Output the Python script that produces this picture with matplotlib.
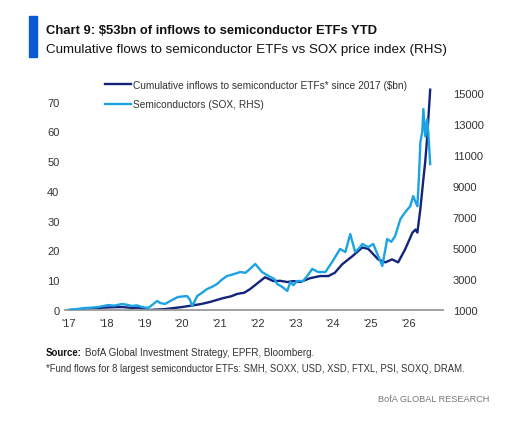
import matplotlib
matplotlib.use('Agg')
import matplotlib.pyplot as plt
from matplotlib.patches import Rectangle

plt.rcParams['font.family'] = ['Liberation Sans', 'DejaVu Sans']

# cumulative inflows to semiconductor ETFs since 2017 ($bn), left axis
flow_dates = [2017.00, 2017.40, 2017.77, 2018.10, 2018.41, 2018.67, 2018.85, 2019.10,
              2019.55, 2020.00, 2020.21, 2020.50, 2020.74, 2021.09, 2021.30, 2021.46,
              2021.65, 2021.80, 2022.07, 2022.20, 2022.42, 2022.60, 2022.79, 2022.95,
              2023.13, 2023.40, 2023.66, 2023.88, 2024.05, 2024.25, 2024.51, 2024.78,
              2024.94, 2025.20, 2025.39, 2025.57, 2025.73, 2025.92, 2026.11, 2026.19,
              2026.24, 2026.32, 2026.40, 2026.45, 2026.50, 2026.58]
flows = [0.0, 0.3, 0.7, 0.9, 1.0, 0.7, 0.8, 0.0,
         0.3, 1.0, 1.4, 2.0, 2.7, 4.0, 4.6, 5.4,
         5.8, 7.0, 9.7, 11.0, 9.7, 9.8, 9.4, 9.7,
         9.4, 10.7, 11.4, 11.4, 12.5, 15.4, 18.0, 21.0,
         20.5, 17.0, 16.0, 17.0, 16.0, 20.5, 26.0, 27.0,
         26.0, 34.0, 44.0, 50.0, 58.0, 74.0]

# SOX price index, right axis
sox_dates = [2017.00, 2017.20, 2017.42, 2017.60, 2017.77, 2017.90, 2018.04, 2018.20,
             2018.41, 2018.55, 2018.67, 2018.80, 2018.94, 2019.10, 2019.34, 2019.42,
             2019.55, 2019.70, 2019.89, 2020.13, 2020.20, 2020.27, 2020.40, 2020.52,
             2020.66, 2020.80, 2020.93, 2021.05, 2021.19, 2021.35, 2021.54, 2021.68,
             2021.80, 2021.94, 2022.00, 2022.12, 2022.34, 2022.45, 2022.52, 2022.65,
             2022.79, 2022.87, 2022.95, 2023.05, 2023.21, 2023.35, 2023.45, 2023.61,
             2023.80, 2023.98, 2024.19, 2024.33, 2024.46, 2024.59, 2024.70, 2024.78,
             2024.94, 2025.07, 2025.18, 2025.31, 2025.44, 2025.55, 2025.65, 2025.79,
             2025.92, 2026.05, 2026.13, 2026.19, 2026.24, 2026.28, 2026.32, 2026.37,
             2026.40, 2026.45, 2026.50, 2026.53, 2026.58]
sox = [1000, 1060, 1130, 1150, 1190, 1250, 1320, 1280,
       1390, 1330, 1260, 1300, 1190, 1130, 1580, 1450,
       1390, 1600, 1840, 1900, 1700, 1260, 1900, 2100,
       2350, 2500, 2680, 2950, 3190, 3300, 3450, 3400,
       3650, 3970, 3800, 3450, 3130, 3000, 2680, 2500,
       2230, 2800, 2600, 2870, 2870, 3300, 3650, 3450,
       3450, 4100, 4940, 4740, 5900, 4740, 5000, 5260,
       5060, 5260, 4610, 3840, 5580, 5400, 5770, 6870,
       7320, 7700, 8350, 7970, 7700, 9500, 11840, 12500,
       13970, 12200, 13300, 12480, 10420]

year_ticks = [2017, 2018, 2019, 2020, 2021, 2022, 2023, 2024, 2025, 2026]
year_labels = ["'17", "'18", "'19", "'20", "'21", "'22", "'23", "'24", "'25", "'26"]
left_ticks = [0, 10, 20, 30, 40, 50, 60, 70]
right_ticks = [1000, 3000, 5000, 7000, 9000, 11000, 13000, 15000]

navy = '#13247a'
light = '#1ba3e3'
txt = '#333333'
W, H = 521, 427

fig = plt.figure(figsize=(5.21, 4.27), dpi=100)
ax = fig.add_axes([65 / W, 1 - 311 / H, (443 - 65) / W, (311 - 88) / H])
ax2 = ax.twinx()

l1, = ax.plot(flow_dates, flows, color=navy, lw=1.7, zorder=2)
l2, = ax2.plot(sox_dates, sox, color=light, lw=1.7, zorder=3)

ax.set_xlim(2016.894, 2026.92)
ax.set_ylim(0, 74.9)
ax2.set_ylim(1000, 15390)

ax.set_xticks(year_ticks)
ax.set_xticklabels(year_labels)
ax.set_yticks(left_ticks)
ax2.set_yticks(right_ticks)

for a in (ax, ax2):
    for s in a.spines.values():
        s.set_visible(False)
    a.tick_params(length=0, labelsize=8, colors=txt)
ax.spines['bottom'].set_visible(True)
ax.spines['bottom'].set_color('#999999')
ax.spines['bottom'].set_linewidth(1.3)
ax.tick_params(axis='y', pad=4)
ax.tick_params(axis='x', pad=6)
ax2.tick_params(axis='y', pad=7)

renderer = fig.canvas.get_renderer()


def fit_text(x, y, s, width, **kw):
    # shrink/grow a text so it spans the same pixel width as in the reference
    t = fig.text(x / W, 1 - y / H, s, fontsize=10, va='center', **kw)
    w = t.get_window_extent(renderer).width
    t.set_fontsize(10 * width / w)
    return t


leg = ax.legend([l1, l2], ['Cumulative inflows to semiconductor ETFs* since 2017 ($bn)',
                           'Semiconductors (SOX, RHS)'],
                loc='upper left', bbox_to_anchor=(105 / W, 1 - 81 / H),
                bbox_transform=fig.transFigure, frameon=False, fontsize=7.3,
                handlelength=2.6, handletextpad=0.15, labelspacing=0.9,
                borderaxespad=0, borderpad=0)
for t in leg.get_texts():
    t.set_color(txt)

fig.patches.append(Rectangle((29 / W, 1 - 58 / H), 8 / W, 41 / H,
                             transform=fig.transFigure, color='#0a5bd3'))
fit_text(46, 31, 'Chart 9: $53bn of inflows to semiconductor ETFs YTD', 332,
         fontweight='bold', color='#111111')
fit_text(46, 50, 'Cumulative flows to semiconductor ETFs vs SOX price index (RHS)', 402,
         color='#111111')

fit_text(46, 353, 'Source:', 36, fontweight='bold', color='#111111')
fit_text(85, 353, 'BofA Global Investment Strategy, EPFR, Bloomberg.', 231, color=txt)
fit_text(46, 369,
         '*Fund flows for 8 largest semiconductor ETFs: SMH, SOXX, USD, XSD, FTXL, PSI, SOXQ, DRAM.',
         420, color=txt)
fit_text(378, 400, 'BofA GLOBAL RESEARCH', 112, color='#777777')

fig.savefig('out.png', dpi=100)
